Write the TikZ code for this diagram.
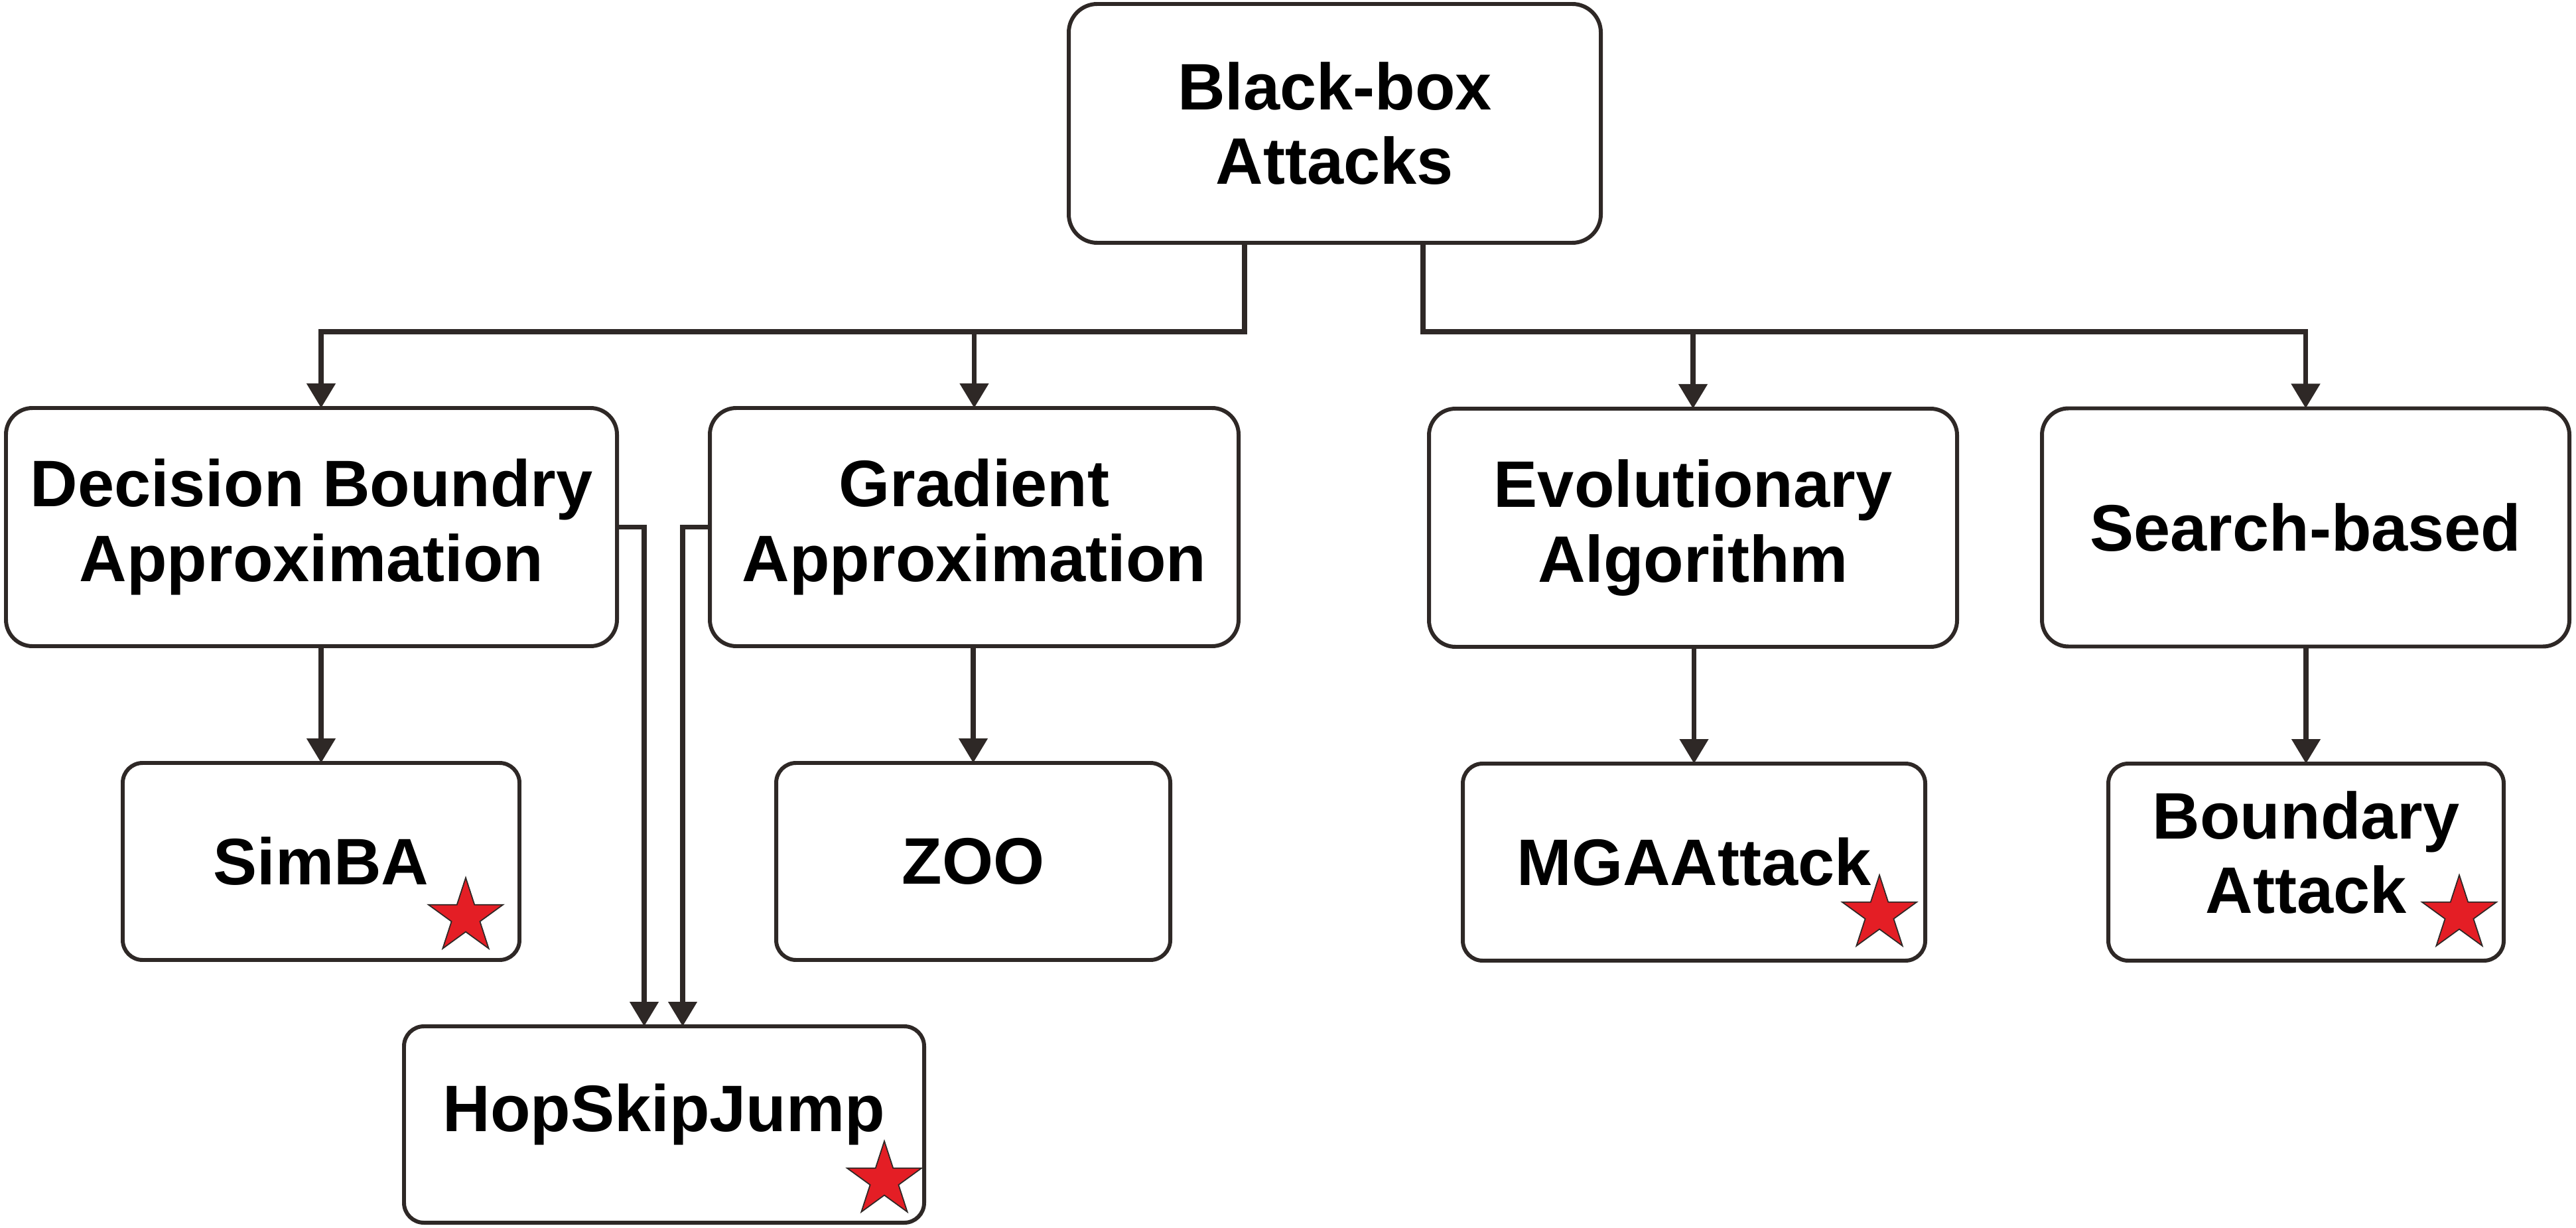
\documentclass[tikz,border=0pt]{standalone}
\usepackage{fontspec}
\setmainfont{Liberation Sans}
\usepackage{tikz}
\usetikzlibrary{arrows.meta,shapes.geometric}
\pgfdeclarelayer{edgelayer}
\pgfdeclarelayer{nodelayer}
\pgfsetlayers{edgelayer,nodelayer,main}
\definecolor{lineclr}{RGB}{46,40,38}
\definecolor{starred}{RGB}{228,30,37}
\tikzstyle{root}=[rectangle, draw=lineclr, line width=1.7pt, rounded corners=0.43cm, minimum width=8.02cm, minimum height=3.6cm, inner sep=0, outer sep=0, align=center, font=\fontsize{28.2pt}{32pt}\selectfont\bfseries]
\tikzstyle{family}=[rectangle, draw=lineclr, line width=1.7pt, rounded corners=0.4cm, minimum height=3.59cm, inner sep=0, outer sep=0, align=center, font=\fontsize{28.2pt}{32pt}\selectfont\bfseries]
\tikzstyle{leaf}=[rectangle, draw=lineclr, line width=1.7pt, rounded corners=0.3cm, minimum height=2.97cm, inner sep=0, outer sep=0, align=center, font=\fontsize{28.2pt}{32pt}\selectfont\bfseries]
\tikzstyle{arrow}=[-{Triangle[length=0.37cm,width=0.42cm]}, draw=lineclr, line width=2.2pt]
\tikzstyle{redstar}=[shape=star, star points=5, star point ratio=2.618, minimum size=1.18cm, inner sep=0, fill=starred, draw=lineclr, line width=0.5pt]

\begin{document}
\begin{tikzpicture}
            \useasboundingbox (0, 0) rectangle (38.83, -18.51);
            \begin{pgfonlayer}{nodelayer}
                \node [style=root] (bba) at (20.12, -1.86) {Black-box\\Attacks};

                \node [style=family, minimum width=9.21cm] (dba) at (4.695, -7.945) {Decision Boundry\\Approximation};
                \node [style=family, minimum width=7.97cm] (ga) at (14.685, -7.945) {Gradient\\Approximation};
                \node [style=family, minimum width=7.96cm] (ea) at (25.52, -7.955) {Evolutionary\\Algorithm};
                \node [style=family, minimum width=7.95cm] (sb) at (34.755, -7.95) {Search-based};

                \node [style=leaf, minimum width=5.98cm] (simba) at (4.84, -12.985) {SimBA};
                \node [style=leaf, minimum width=5.94cm] (zoo) at (14.67, -12.985) {ZOO};
                \node [style=leaf, minimum width=6.97cm] (mga) at (25.535, -12.995) {MGAAttack};
                \node [style=leaf, minimum width=5.96cm, text depth=0.3cm] (ba) at (34.76, -12.995) {Boundary\\Attack};
                \node [style=leaf, minimum width=7.84cm, minimum height=2.96cm, text depth=0.5cm] (hsj) at (10.01, -16.95) {HopSkipJump};

                \node [style=redstar] (s1) at (7.02, -13.82) {};
                \node [style=redstar] (s2) at (13.33, -17.79) {};
                \node [style=redstar] (s3) at (28.33, -13.78) {};
                \node [style=redstar] (s4) at (37.07, -13.78) {};

                \coordinate (jl) at (18.76, -5.00);
                \coordinate (jr) at (21.45, -5.00);
            \end{pgfonlayer}
            \begin{pgfonlayer}{edgelayer}
                \draw [style=arrow] (bba.south -| jl) -- (jl) -| (dba.north -| simba.north);
                \draw [style=arrow] (jl -| ga.north) -- (ga.north);
                \draw [style=arrow] (bba.south -| jr) -- (jr) -| (sb.north);
                \draw [style=arrow] (jr -| ea.north) -- (ea.north);

                \draw [style=arrow] (dba.south -| simba.north) -- (simba.north);
                \draw [style=arrow] (ga.south -| zoo.north) -- (zoo.north);
                \draw [style=arrow] (ea.south -| mga.north) -- (mga.north);
                \draw [style=arrow] (sb.south -| ba.north) -- (ba.north);

                \draw [style=arrow] (dba.east) -| ([xshift=-0.3cm]hsj.north);
                \draw [style=arrow] (ga.west) -| ([xshift=0.28cm]hsj.north);
            \end{pgfonlayer}
        \end{tikzpicture}
\end{document}
